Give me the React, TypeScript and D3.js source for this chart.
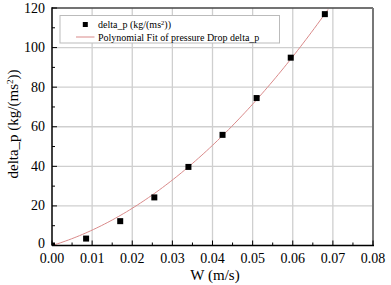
import React from "react";
import * as d3 from "d3";

const W_VALUES = [0, 0.0085, 0.017, 0.0255, 0.034, 0.0425, 0.051, 0.0595, 0.068];
const DP_VALUES = [0, 3.5, 12.3, 24.3, 39.7, 55.9, 74.5, 94.9, 116.9];
const X_TICKS = [0, 0.01, 0.02, 0.03, 0.04, 0.05, 0.06, 0.07, 0.08];
const Y_TICKS = [0, 20, 40, 60, 80, 100, 120];
// Fit coefficients: y = c1*x + c2*x^2
const FIT_COEFFS = [0, 615, 16260];
const FIT_RANGE = [0, 0.0688];

const FONT = '"Liberation Serif", "DejaVu Serif", "Times New Roman", Times, serif';

export default function App() {
  const width = 391;
  const height = 285;
  const left = 52, right = 373, top = 8, bottom = 245.5;
  const x = d3.scaleLinear().domain([0, 0.08]).range([left, right]);
  const y = d3.scaleLinear().domain([0, 120]).range([bottom, top]);

  const fitPts: [number, number][] = d3.range(0, 101).map((i) => {
    const xv = FIT_RANGE[0] + ((FIT_RANGE[1] - FIT_RANGE[0]) * i) / 100;
    const yv = FIT_COEFFS[0] + FIT_COEFFS[1] * xv + FIT_COEFFS[2] * xv * xv;
    return [xv, yv];
  });
  const line = d3.line<[number, number]>().x((d) => x(d[0])).y((d) => y(d[1]));

  const xMinor = d3.range(0.005, 0.08, 0.01);
  const yMinor = d3.range(10, 120, 20);
  const sq = 6;
  const ts = { fontFamily: FONT } as React.CSSProperties;

  return (
    <div style={{ position: "absolute", left: 0, top: 0 }}>
      <svg width={width} height={height} style={{ display: "block", fontFamily: FONT }}>
        <rect x={0} y={0} width={width} height={height} fill="#fff" />
        <defs>
          <clipPath id="plotclip">
            <rect x={left} y={top} width={right - left} height={bottom - top} />
          </clipPath>
        </defs>
        {X_TICKS.slice(1, -1).map((t) => (
          <line key={"gx" + t} x1={x(t)} x2={x(t)} y1={top} y2={bottom} stroke="#cfcfcf" strokeWidth={1.3} />
        ))}
        {Y_TICKS.slice(1, -1).map((t) => (
          <line key={"gy" + t} x1={left} x2={right} y1={y(t)} y2={y(t)} stroke="#cfcfcf" strokeWidth={1.3} />
        ))}
        <line x1={left} x2={right} y1={top} y2={top} stroke="#444" strokeWidth={1.5} />
        <line x1={right} x2={right} y1={top} y2={bottom} stroke="#777" strokeWidth={2} />
        <g clipPath="url(#plotclip)">
          <path d={line(fitPts) || ""} fill="none" stroke="#d98a8a" strokeWidth={1} />
          {W_VALUES.map((w, i) => (
            <rect key={"p" + i} x={x(w) - sq / 2} y={y(DP_VALUES[i]) - sq / 2} width={sq} height={sq} fill="#000" />
          ))}
        </g>
        <line x1={left} x2={right + 1} y1={bottom} y2={bottom} stroke="#000" strokeWidth={1.5} />
        <line x1={left} x2={left} y1={top - 0.7} y2={bottom} stroke="#000" strokeWidth={1.5} />
        {X_TICKS.map((t) => (
          <line key={"xt" + t} x1={x(t)} x2={x(t)} y1={bottom} y2={bottom - 5} stroke="#000" strokeWidth={1} />
        ))}
        {xMinor.map((t) => (
          <line key={"xm" + t} x1={x(t)} x2={x(t)} y1={bottom} y2={bottom - 3} stroke="#000" strokeWidth={1} />
        ))}
        {Y_TICKS.map((t) => (
          <line key={"yt" + t} x1={left} x2={left + 5} y1={y(t)} y2={y(t)} stroke="#000" strokeWidth={1} />
        ))}
        {yMinor.map((t) => (
          <line key={"ym" + t} x1={left} x2={left + 3} y1={y(t)} y2={y(t)} stroke="#000" strokeWidth={1} />
        ))}
        {X_TICKS.map((t) => (
          <text key={"xl" + t} x={x(t)} y={262.5} textAnchor="middle" style={ts} fontSize={14} fill="#000">
            {d3.format(".2f")(t)}
          </text>
        ))}
        {Y_TICKS.map((t) => (
          <text key={"yl" + t} x={45} y={y(t) + (t === 0 ? 2.5 : 4.5)} textAnchor="end" style={ts} fontSize={14} fill="#000">
            {t}
          </text>
        ))}
        <text x={215} y={280} textAnchor="middle" style={ts} fontSize={15} fill="#000">
          W (m/s)
        </text>
        <text transform={`translate(18,124) rotate(-90)`} textAnchor="middle" style={ts} fontSize={15} fill="#000">
          delta_p (kg/(ms<tspan dy={-5} fontSize={9}>2</tspan><tspan dy={5}>))</tspan>
        </text>
        <rect x={60} y={15.5} width={219.5} height={27.5} fill="#fff" stroke="#bbb" strokeWidth={1} />
        <rect x={85.3 - 2.5} y={24.5 - 2.5} width={5} height={5} fill="#000" />
        <text x={98} y={28} style={ts} fontSize={10} fill="#000">
          delta_p (kg/(ms<tspan dy={-3.5} fontSize={6.5}>2</tspan><tspan dy={3.5}>))</tspan>
        </text>
        <line x1={76} x2={94.5} y1={37} y2={37} stroke="#d98a8a" strokeWidth={1} />
        <text x={98} y={40.5} style={ts} fontSize={10} fill="#000">
          Polynomial Fit of pressure Drop delta_p
        </text>
      </svg>
    </div>
  );
}
